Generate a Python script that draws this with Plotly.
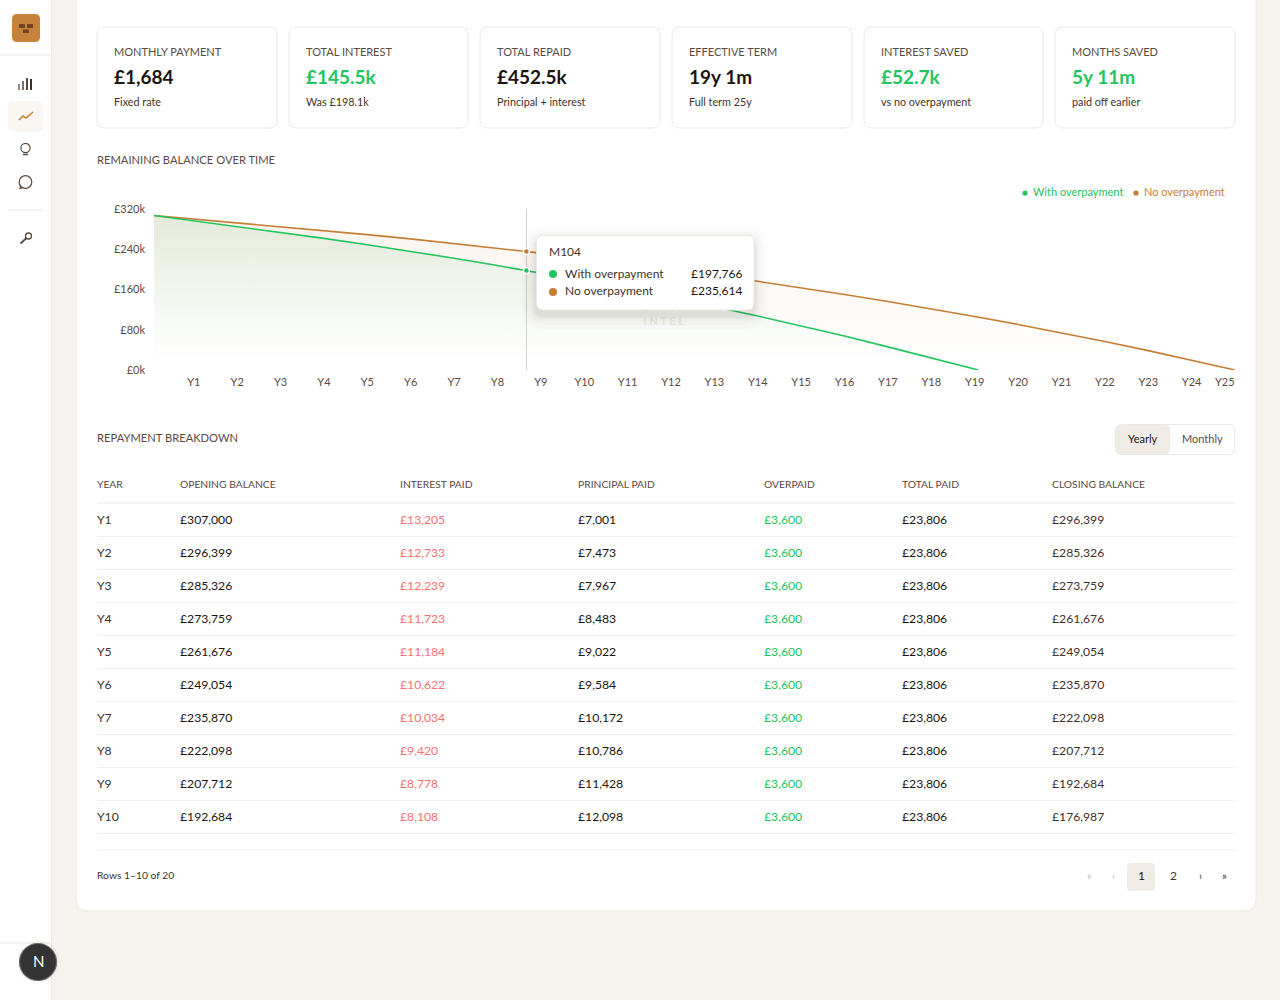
import plotly.graph_objects as go

FONT = "Lato"
INK = "#1c1410"
BODY = "#3f322a"
MUTED = "#5a4a3f"
GREEN = "#22c55e"
ORANGE = "#c87d35"
RED = "#f87171"
BORDER = "#ece9e4"
PAGE = "#f6f3ee"

# chart data
months_with = [1, 12, 24, 36, 48, 60, 72, 84, 96, 104, 108, 120, 132, 144, 156, 168, 180, 192, 204, 216, 228, 229]
balance_with = [307000, 296399, 285326, 273759, 261676, 249054, 235870, 222098, 207712, 197766, 192684, 176987,
                160700, 143700, 125900, 107300, 87800, 67400, 46000, 24000, 1800, 0]
months_none = [1, 12, 24, 36, 48, 60, 72, 84, 96, 104, 108, 120, 132, 144, 156, 168, 180, 192, 204, 216, 228, 240,
               252, 264, 276, 288, 300]
balance_none = [307000, 300080, 292850, 285296, 277400, 269164, 260542, 251547, 242150, 235614, 232335, 222071,
                211358, 200165, 188477, 176247, 163493, 150147, 136213, 121661, 106459, 90576, 73980, 56641, 38544,
                19610, 0]
hover_month = [104, 104]
hover_values = [197766, 235614]
y_ticks = [0, 80000, 160000, 240000, 320000]
y_labels = ["£0k", "£80k", "£160k", "£240k", "£320k"]
year_ticks = [12, 24, 36, 48, 60, 72, 84, 96, 108, 120, 132, 144, 156, 168, 180, 192, 204, 216, 228, 240, 252, 264,
              276, 288]
year_labels = ["Y1", "Y2", "Y3", "Y4", "Y5", "Y6", "Y7", "Y8", "Y9", "Y10", "Y11", "Y12", "Y13", "Y14", "Y15", "Y16",
               "Y17", "Y18", "Y19", "Y20", "Y21", "Y22", "Y23", "Y24"]

# stat cards
card_titles = ["MONTHLY PAYMENT", "TOTAL INTEREST", "TOTAL REPAID", "EFFECTIVE TERM", "INTEREST SAVED", "MONTHS SAVED"]
card_values = ["£1,684", "£145.5k", "£452.5k", "19y 1m", "£52.7k", "5y 11m"]
card_notes = ["Fixed rate", "Was £198.1k", "Principal + interest", "Full term 25y", "vs no overpayment",
              "paid off earlier"]
card_colors = [INK, GREEN, INK, INK, GREEN, GREEN]
card_left = [97, 289, 480, 672, 864, 1055]
card_right = [277, 468, 660, 852, 1043, 1235]

# table
table_headers = ["YEAR", "OPENING BALANCE", "INTEREST PAID", "PRINCIPAL PAID", "OVERPAID", "TOTAL PAID",
                 "CLOSING BALANCE"]
table_x = [97, 180, 400, 578, 764, 902, 1052]
years = ["Y1", "Y2", "Y3", "Y4", "Y5", "Y6", "Y7", "Y8", "Y9", "Y10"]
opening = ["£307,000", "£296,399", "£285,326", "£273,759", "£261,676", "£249,054", "£235,870", "£222,098", "£207,712",
           "£192,684"]
interest = ["£13,205", "£12,733", "£12,239", "£11,723", "£11,184", "£10,622", "£10,034", "£9,420", "£8,778", "£8,108"]
principal = ["£7,001", "£7,473", "£7,967", "£8,483", "£9,022", "£9,584", "£10,172", "£10,786", "£11,428", "£12,098"]
overpaid = ["£3,600"] * 10
total_paid = ["£23,806"] * 10
closing = ["£296,399", "£285,326", "£273,759", "£261,676", "£249,054", "£235,870", "£222,098", "£207,712", "£192,684",
           "£176,987"]
table_columns = [years, opening, interest, principal, overpaid, total_paid, closing]
column_colors = [BODY, INK, RED, INK, GREEN, INK, BODY]


def px(x):
    return x / 1280


def py(y):
    return 1 - y / 1000


shapes = []
annotations = []


def text(x, y, s, size=11, color=BODY, anchor="left", weight=400):
    # annotations sit about 1px low against the page, hence y - 1
    annotations.append(dict(x=px(x), y=py(y - 1), xref="paper", yref="paper", text=s, showarrow=False, xanchor=anchor,
                            yanchor="middle", borderpad=0, borderwidth=0,
                            font=dict(family=FONT, size=size, color=color, weight=weight)))


def rrect(x0, y0, x1, y1, r, fill, line=None, layer="below", width=1):
    d = (f"M {px(x0 + r)} {py(y0)} L {px(x1 - r)} {py(y0)} Q {px(x1)} {py(y0)} {px(x1)} {py(y0 + r)} "
         f"L {px(x1)} {py(y1 - r)} Q {px(x1)} {py(y1)} {px(x1 - r)} {py(y1)} L {px(x0 + r)} {py(y1)} "
         f"Q {px(x0)} {py(y1)} {px(x0)} {py(y1 - r)} L {px(x0)} {py(y0 + r)} Q {px(x0)} {py(y0)} {px(x0 + r)} {py(y0)} Z")
    shapes.append(dict(type="path", path=d, xref="paper", yref="paper", fillcolor=fill, layer=layer,
                       line=dict(color=line if line else "rgba(0,0,0,0)", width=width if line else 0)))


def rule(x0, y0, x1, y1, color=BORDER, width=1, layer="below"):
    shapes.append(dict(type="line", x0=px(x0), y0=py(y0), x1=px(x1), y1=py(y1), xref="paper", yref="paper",
                       layer=layer, line=dict(color=color, width=width)))


def dot(x, y, r, color, line=None, layer="below", width=1):
    shapes.append(dict(type="circle", x0=px(x - r), y0=py(y - r), x1=px(x + r), y1=py(y + r), xref="paper",
                       yref="paper", fillcolor=color, layer=layer,
                       line=dict(color=line if line else "rgba(0,0,0,0)", width=width if line else 0)))


def stroke(points, color, width=1.2, layer="below"):
    d = "M " + " L ".join(f"{px(a)} {py(b)}" for a, b in points)
    shapes.append(dict(type="path", path=d, xref="paper", yref="paper", layer=layer,
                       line=dict(color=color, width=width)))


# sidebar
rrect(-4, -4, 51.5, 1004, 0, "white", BORDER)
rule(0, 55, 51, 55)
rule(8, 210, 43, 210)
rule(0, 943, 51, 943)
rrect(12, 14, 40, 42, 5, "#c6813a")
rrect(19, 24, 25, 28, 0.5, "#6e4420")
rrect(27, 24, 33, 28, 0.5, "#6e4420")
rrect(23, 29.5, 29, 33, 0.5, "#6e4420")
# bar icon
for bx, top, col in zip([19, 23, 27, 31], [84, 81, 78, 79], ["#9a8e84", "#7d7067", "#5a4a3f", "#3f322a"]):
    rule(bx, 90, bx, top, col, 2)
# active line icon
rrect(8, 101, 43, 132, 6, "#faf6f1")
stroke([(19, 120), (23, 116), (26, 118), (33, 112)], ORANGE, 1.4)
# bulb icon
dot(25.5, 148, 4.6, "white", MUTED, width=1.2)
rule(23, 154.5, 28, 154.5, MUTED, 1.5)
# chat icon
dot(25.5, 182, 6.3, "white", MUTED, width=1.2)
stroke([(20.5, 186), (20, 188.5), (23, 187.5)], MUTED)
# key icon
dot(28.5, 236, 3, "white", MUTED, width=1.3)
stroke([(26.5, 238), (20.5, 243.5)], MUTED, 1.8)

# main panel
rrect(76, -30, 1256, 911, 12, "white", BORDER)

# stat cards
for i in range(6):
    rrect(card_left[i], 27, card_right[i], 128, 8, "white", BORDER)
    x = card_left[i] + 17
    text(x, 52, card_titles[i], 11, MUTED)
    text(x, 78, card_values[i], 19, card_colors[i], weight=700)
    text(x, 102.5, card_notes[i], 10.8, BODY)

text(97, 160, "REMAINING BALANCE OVER TIME", 11.2, MUTED)
text(97, 439, "REPAYMENT BREAKDOWN", 11.2, MUTED)

# legend
dot(1025, 193, 2.6, GREEN)
text(1033, 192.5, "With overpayment", 11, GREEN)
dot(1136, 193, 2.6, ORANGE)
text(1144, 192.5, "No overpayment", 11, ORANGE)

# last x label sits inside the plot end
text(1235, 382, "Y25", 11, MUTED, anchor="right")

# crosshair
shapes.append(dict(type="line", x0=hover_month[0], x1=hover_month[0], xref="x", y0=py(209), y1=py(370), yref="paper",
                   layer="below", line=dict(color="#d3d1cd", width=1)))

# tooltip, soft shadow then box
for grow, alpha in [(14, 0.012), (10, 0.016), (7, 0.02), (4, 0.03), (2, 0.04)]:
    rrect(536 - grow, 235 - grow + 5, 754 + grow, 310 + grow + 5, 8 + grow, f"rgba(40,30,20,{alpha})", layer="above")
rrect(536.5, 235.5, 754, 310, 7, "white", BORDER, layer="above")
dot(553, 274, 4, GREEN, layer="above")
dot(553, 292, 4, ORANGE, layer="above")
text(549, 252, "M" + str(hover_month[0]), 12, BODY)
text(565, 274, "With overpayment", 12, BODY)
text(565, 292, "No overpayment", 12, BODY)
text(741.5, 274, f"£{hover_values[0]:,}", 12, INK, anchor="right")
text(741.5, 292, f"£{hover_values[1]:,}", 12, INK, anchor="right")

# toggle
rrect(1115.5, 424.5, 1234.5, 454.5, 6, "white", BORDER)
rrect(1116, 425, 1170, 454, 5, "#f0ece5")
text(1143, 439.5, "Yearly", 11, INK, anchor="center")
text(1202, 439.5, "Monthly", 11, MUTED, anchor="center")

# table
for x, h in zip(table_x, table_headers):
    text(x, 484.5, h, 10.3, MUTED)
rule(97, 503, 1235, 503)
for r in range(10):
    y = 520 + 33 * r
    for c, col in enumerate(table_columns):
        text(table_x[c], y, col[r], 12.2, column_colors[c])
    rule(97, y + 16.5, 1235, y + 16.5, "#f3f1ed")

# pager
rule(97, 850, 1235, 850, "#f3f1ed")
text(97, 876, "Rows 1–10 of 20", 10.3, BODY)
rrect(1127, 863, 1155, 891, 4, "#f0ece5")
text(1089, 876, "«", 11, "#c9c4be", anchor="center")
text(1113, 876, "‹", 11, "#c9c4be", anchor="center")
text(1141, 876, "1", 12, INK, anchor="center")
text(1173, 876, "2", 12, BODY, anchor="center")
text(1200, 876, "›", 11, BODY, anchor="center")
text(1224, 876, "»", 11, BODY, anchor="center")

# dev badge
dot(38, 962, 22, "rgba(60,50,40,0.03)", layer="above")
dot(38, 962, 18.5, "#333333", "#6b6b6b", layer="above", width=1.2)
text(38, 962, "N", 15, "white", anchor="center")

fig = go.Figure()
fig.add_trace(go.Scatter(x=months_none, y=balance_none, mode="lines", name="No overpayment",
                         line=dict(color=ORANGE, width=1.6), fill="tozeroy",
                         fillgradient=dict(type="vertical", start=15000, stop=307000,
                                           colorscale=[[0, "rgba(200,125,53,0)"], [1, "rgba(200,125,53,0.09)"]])))
fig.add_trace(go.Scatter(x=months_with, y=balance_with, mode="lines", name="With overpayment",
                         line=dict(color=GREEN, width=1.6), fill="tozeroy",
                         fillgradient=dict(type="vertical", start=15000, stop=307000,
                                           colorscale=[[0, "rgba(34,197,94,0)"], [1, "rgba(40,150,50,0.1)"]])))
fig.add_trace(go.Scatter(x=hover_month, y=hover_values, mode="markers", hoverinfo="skip",
                         marker=dict(color=[GREEN, ORANGE], size=6, line=dict(color="white", width=1.5))))
# watermark, mostly hidden by the tooltip
fig.add_trace(go.Scatter(x=[142, 142], y=[122000, 95000], mode="text", text=["B R I C K", "I N T E L"],
                         hoverinfo="skip", textfont=dict(family=FONT, size=11, color="#ebe7df", weight=700)))

fig.update_layout(
    width=1280, height=1000, margin=dict(l=0, r=0, t=0, b=0, autoexpand=False), paper_bgcolor=PAGE,
    plot_bgcolor="rgba(0,0,0,0)",
    showlegend=False, shapes=shapes, annotations=annotations,
    font=dict(family=FONT, size=11, color=MUTED),
    xaxis=dict(domain=[px(154), px(1235)], range=[1, 300], tickmode="array", tickvals=year_ticks,
               ticktext=year_labels, showgrid=False, zeroline=False, showline=False, ticks="",
               ticklabelstandoff=4, tickangle=0, automargin=False),
    yaxis=dict(domain=[py(370), py(209)], range=[0, 320000], tickmode="array", tickvals=y_ticks, ticktext=y_labels,
               showgrid=False, zeroline=False, showline=False, ticks="", ticklabelstandoff=8, automargin=False),
)

fig.write_html("out.html", config=dict(displayModeBar=False),
               post_script="document.body.style.margin='0';document.body.style.overflow='hidden';")
